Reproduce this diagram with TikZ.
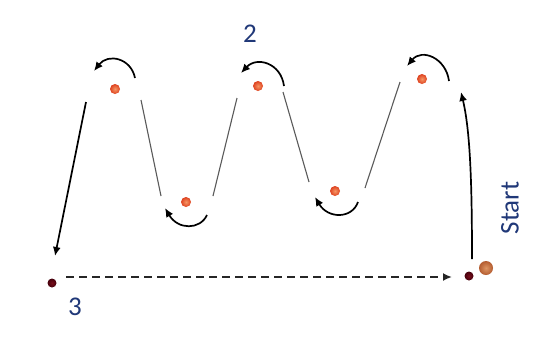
\documentclass[tikz,border=0pt]{standalone}
\usepackage{fontspec}
\setmainfont{Carlito}
\usetikzlibrary{arrows.meta}
\definecolor{navy}{RGB}{32,56,120}
\definecolor{ballin}{RGB}{246,150,100}
\definecolor{ballout}{RGB}{222,66,32}
\definecolor{startin}{RGB}{222,150,100}
\definecolor{startout}{RGB}{180,92,48}
\definecolor{darkin}{RGB}{120,14,28}
\definecolor{darkout}{RGB}{70,0,12}
\definecolor{thin}{RGB}{90,90,90}
\tikzset{
  ball/.style={circle, inner sep=0pt, minimum size=10pt, shading=radial, inner color=ballin, outer color=ballout},
  track/.style={draw=thin, line width=1.1pt},
  move/.style={draw=black, line width=1.7pt, -{Latex[length=9pt,width=8pt]}},
  dashmove/.style={draw=black!85, line width=1.8pt, dash pattern=on 8pt off 5pt, -{Latex[length=9pt,width=8pt]}},
  lbl/.style={text=navy, font=\fontsize{27}{30}\selectfont, inner sep=0pt}
}
\begin{document}
\begin{tikzpicture}[x=1pt,y=-1pt]
\useasboundingbox[fill=white] (0,0) rectangle (535,341);
% balls
\node[ball] (A) at (115,89) {};
\node[ball] (B) at (186,202) {};
\node[ball] (C) at (258,86) {};
\node[ball] (D) at (335,191) {};
\node[ball] (E) at (422,79) {};
\node[circle, inner sep=0pt, minimum size=14pt, shading=radial, inner color=startin, outer color=startout] (S) at (486,268) {};
\node[circle, inner sep=0pt, minimum size=9pt, shading=radial, inner color=darkin, outer color=darkout] (S0) at (469,276) {};
\node[circle, inner sep=0pt, minimum size=9pt, shading=radial, inner color=darkin, outer color=darkout] (P3) at (52,283) {};
% labels
\node[lbl] (l2) at (250,34) {2};
\node[lbl] (l3) at (75,307) {3};
\node[lbl, rotate=90] (lS) at (510,208) {Start};
% track coordinates
\coordinate (t1a) at (141,100); \coordinate (t1b) at (161,196);
\coordinate (t2a) at (213,196); \coordinate (t2b) at (237,98);
\coordinate (t3a) at (283,92);  \coordinate (t3b) at (309,182);
\coordinate (t4a) at (365,188); \coordinate (t4b) at (400,82);
\draw[track] (t1a) -- (t1b);
\draw[track] (t2a) -- (t2b);
\draw[track] (t3a) -- (t3b);
\draw[track] (t4a) -- (t4b);
% curved moves
\coordinate (a1) at (135,78); \coordinate (a2) at (94,71);
\draw[move] (a1) .. controls (131,58) and (108,53) .. (a2);
\coordinate (c1) at (284,86); \coordinate (c2) at (241,73);
\draw[move] (c1) .. controls (281,63) and (257,56) .. (c2);
\coordinate (e1) at (449,81); \coordinate (e2) at (407,66);
\draw[move] (e1) .. controls (446,58) and (422,48) .. (e2);
\coordinate (b1) at (207,215); \coordinate (b2) at (165,208);
\draw[move] (b1) .. controls (200,230) and (178,230) .. (b2);
\coordinate (d1) at (358,202); \coordinate (d2) at (315,197);
\draw[move] (d1) .. controls (352,219) and (328,219) .. (d2);
% long moves
\coordinate (f1) at (86,102); \coordinate (f2) at (55,256);
\draw[move] (f1) -- (f2);
\coordinate (s1) at (472,259); \coordinate (s2) at (461,92);
\draw[move] (s1) .. controls (472,180) and (470,130) .. (s2);
\coordinate (g1) at (66,277); \coordinate (g2) at (452,277);
\draw[dashmove] (g1) -- (g2);
\end{tikzpicture}
\end{document}
